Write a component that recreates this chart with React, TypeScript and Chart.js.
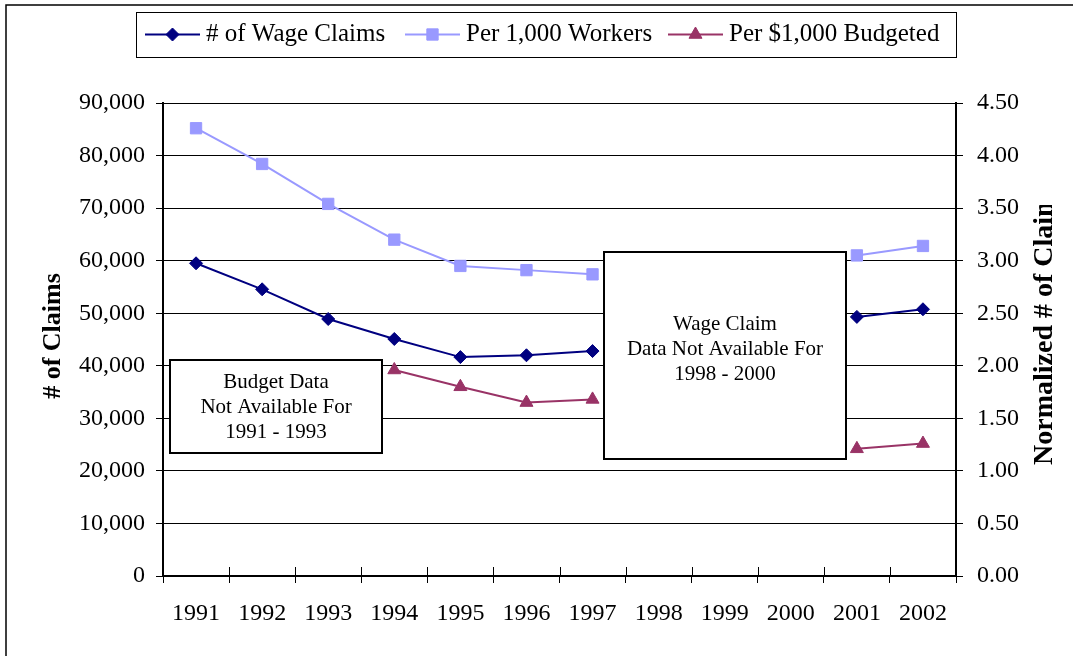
import React, { useEffect, useRef } from 'react';
import { Chart, registerables } from 'chart.js';
import { drawPoint } from 'chart.js/helpers';

Chart.register(...registerables);

const years = ['1991', '1992', '1993', '1994', '1995', '1996', '1997', '1998', '1999', '2000', '2001', '2002'];
const wageClaims = [59500, 54550, 48900, 45100, 41650, 42000, 42800, null, null, null, 49300, 50750];
const perThousandWorkers = [4.26, 3.92, 3.54, 3.2, 2.95, 2.91, 2.87, null, null, null, 3.05, 3.14];
const perThousandBudgeted = [null, null, null, 1.96, 1.8, 1.65, 1.68, null, null, null, 1.21, 1.26];

const leftMax = 90000;
const leftStep = 10000;
const rightMax = 4.5;
const rightStep = 0.5;

const leftTitle = '# of Claims';
const rightTitle = 'Normalized # of Claims';
const budgetNote = ['Budget Data', 'Not Available For', '1991 - 1993'];
const wageNote = ['Wage Claim', 'Data Not Available For', '1998 - 2000'];

const SERIF = '"Liberation Serif", "Times New Roman", Times, serif';
const legendStarts = [145, 405, 668];

const decorPlugin = {
  id: 'decor',
  beforeDraw(chart: any) {
    const ctx = chart.ctx;
    ctx.save();
    ctx.fillStyle = '#fff';
    ctx.fillRect(0, 0, chart.width, chart.height);
    ctx.strokeStyle = '#000';
    ctx.lineWidth = 1.5;
    ctx.beginPath();
    ctx.moveTo(6, 700);
    ctx.lineTo(6, 5);
    ctx.lineTo(1073, 5);
    ctx.stroke();
    ctx.restore();
  },
  afterDatasetsDraw(chart: any) {
    const ctx = chart.ctx;
    const drawBox = (x: number, y: number, w: number, h: number, lines: string[], cx: number, firstY: number) => {
      ctx.save();
      ctx.fillStyle = '#fff';
      ctx.fillRect(x, y, w, h);
      ctx.strokeStyle = '#000';
      ctx.lineWidth = 2;
      ctx.strokeRect(x, y, w, h);
      ctx.fillStyle = '#000';
      ctx.font = `21px ${SERIF}`;
      ctx.textAlign = 'center';
      ctx.textBaseline = 'middle';
      lines.forEach((t, i) => ctx.fillText(t, cx, firstY + i * 25));
      ctx.restore();
    };
    drawBox(170, 360, 212, 93, budgetNote, 276, 382);
    drawBox(604, 252, 242, 207, wageNote, 725, 324);
  },
  afterDraw(chart: any) {
    const ctx = chart.ctx;
    const area = chart.chartArea;
    ctx.save();
    // inner part of x ticks
    ctx.strokeStyle = '#000';
    ctx.lineWidth = 1;
    const n = years.length;
    for (let i = 0; i <= n; i++) {
      const x = Math.round(area.left + (i * (area.right - area.left)) / n) + 0.5;
      ctx.beginPath();
      ctx.moveTo(x, area.bottom - 9);
      ctx.lineTo(x, area.bottom);
      ctx.stroke();
    }
    // legend
    ctx.lineWidth = 1;
    ctx.strokeRect(136.5, 12.5, 820, 45);
    ctx.font = `25px ${SERIF}`;
    ctx.textBaseline = 'middle';
    ctx.textAlign = 'left';
    const ly = 34.5;
    chart.data.datasets.forEach((ds: any, i: number) => {
      const x = legendStarts[i];
      ctx.strokeStyle = ds.borderColor;
      ctx.lineWidth = 2;
      ctx.beginPath();
      ctx.moveTo(x, ly);
      ctx.lineTo(x + 55, ly);
      ctx.stroke();
      ctx.fillStyle = ds.pointBackgroundColor;
      ctx.strokeStyle = ds.pointBorderColor;
      ctx.lineWidth = 1;
      drawPoint(ctx, { pointStyle: ds.pointStyle, radius: ds.pointRadius, rotation: 0, borderWidth: 1 }, x + 27.5, ly);
      ctx.fillStyle = '#000';
      ctx.fillText(ds.label, x + 61, ly);
    });
    // axis titles
    ctx.fillStyle = '#000';
    ctx.font = `bold 26px ${SERIF}`;
    ctx.save();
    ctx.translate(60, 336);
    ctx.rotate(-Math.PI / 2);
    ctx.textAlign = 'center';
    ctx.textBaseline = 'alphabetic';
    ctx.fillText(leftTitle, 0, 0);
    ctx.restore();
    ctx.save();
    ctx.font = `bold 28px ${SERIF}`;
    ctx.beginPath();
    ctx.rect(1000, 205, 75, 451);
    ctx.clip();
    ctx.translate(1052, 465);
    ctx.rotate(-Math.PI / 2);
    ctx.textAlign = 'left';
    ctx.textBaseline = 'alphabetic';
    ctx.fillText(rightTitle, 0, 0);
    ctx.restore();
    ctx.restore();
  },
};

export default function App() {
  const ref = useRef<HTMLCanvasElement>(null);
  useEffect(() => {
    document.body.style.margin = '0';
    const tickFont = { family: SERIF, size: 24 };
    const chart = new Chart(ref.current as HTMLCanvasElement, {
      type: 'line',
      data: {
        labels: years,
        datasets: [
          {
            label: '# of Wage Claims',
            data: wageClaims,
            yAxisID: 'y',
            borderColor: '#000080',
            backgroundColor: '#000080',
            pointBackgroundColor: '#000080',
            pointBorderColor: '#000080',
            pointStyle: 'rectRot',
            pointRadius: 6.5,
            pointBorderWidth: 1,
            borderWidth: 2,
            tension: 0,
          },
          {
            label: 'Per 1,000 Workers',
            data: perThousandWorkers,
            yAxisID: 'y1',
            borderColor: '#9999FF',
            backgroundColor: '#9999FF',
            pointBackgroundColor: '#9999FF',
            pointBorderColor: '#9999FF',
            pointStyle: 'rect',
            pointRadius: 8,
            pointBorderWidth: 1,
            borderWidth: 2,
            tension: 0,
          },
          {
            label: 'Per $1,000 Budgeted',
            data: perThousandBudgeted,
            yAxisID: 'y1',
            borderColor: '#993366',
            backgroundColor: '#993366',
            pointBackgroundColor: '#993366',
            pointBorderColor: '#993366',
            pointStyle: 'triangle',
            pointRadius: 7.5,
            pointBorderWidth: 1,
            borderWidth: 2,
            tension: 0,
          },
        ] as any,
      },
      options: {
        responsive: false,
        animation: false,
        layout: { padding: { top: 103, left: 0, right: 0, bottom: 0 } },
        plugins: { legend: { display: false }, tooltip: { enabled: false }, title: { display: false } },
        scales: {
          x: {
            offset: true,
            grid: { offset: true, drawOnChartArea: false, tickLength: 7, color: '#000', tickWidth: 1 },
            border: { color: '#000', width: 2 },
            ticks: { font: tickFont, color: '#000', padding: 16, maxRotation: 0, autoSkip: false },
            afterFit: (s: any) => {
              s.height = 80;
            },
          },
          y: {
            position: 'left',
            min: 0,
            max: leftMax,
            ticks: {
              stepSize: leftStep,
              font: tickFont,
              color: '#000',
              padding: 11,
              callback: (v: any) => Number(v).toLocaleString('en-US'),
            },
            grid: { color: '#000', lineWidth: 1, tickLength: 7 },
            border: { color: '#000', width: 2 },
            afterFit: (s: any) => {
              s.width = 163;
            },
          },
          y1: {
            position: 'right',
            min: 0,
            max: rightMax,
            ticks: {
              stepSize: rightStep,
              font: tickFont,
              color: '#000',
              padding: 14,
              callback: (v: any) => Number(v).toFixed(2),
            },
            grid: { drawOnChartArea: false, color: '#000', lineWidth: 1, tickLength: 7 },
            border: { color: '#000', width: 2 },
            afterFit: (s: any) => {
              s.width = 119;
            },
          },
        },
      } as any,
      plugins: [decorPlugin],
    });
    return () => chart.destroy();
  }, []);
  return <canvas ref={ref} width={1075} height={656} style={{ display: 'block' }} />;
}
